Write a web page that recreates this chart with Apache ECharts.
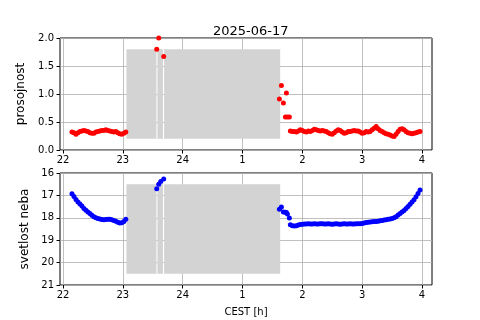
<!DOCTYPE html>
<html>
<head>
<meta charset="utf-8">
<script src="https://cdn.jsdelivr.net/npm/echarts@6/dist/echarts.min.js"></script>
<style>
html, body { margin: 0; padding: 0; background: #fff; }
#chart { width: 480px; height: 320px; }
</style>
</head>
<body>
<div id="chart"></div>
<script>
// sample times, minutes after 22:00 CEST
var minutes = [
    9, 11, 13, 15, 17, 19, 21, 23, 25, 27, 29, 31, 33, 35, 37, 39, 41, 43, 45, 47, 49, 51, 53, 55, 57, 59, 61, 63,
    94, 96, 98, 101,
    217, 219, 221, 223, 224, 225, 227,
    228, 230, 232, 234, 236, 238, 240, 242, 244, 246, 248, 250, 252, 254, 256, 258, 260, 262, 264, 266, 268, 270,
    272, 274, 276, 278, 280, 282, 284, 286, 288, 290, 292, 294, 296, 298, 300, 302, 304, 306, 308, 310, 312, 314,
    316, 318, 320, 322, 324, 326, 328, 330, 332, 334, 336, 338, 340, 342, 344, 346, 348, 350, 352, 354, 356, 358
];
var prosojnost = [
    0.32, 0.31, 0.28, 0.31, 0.33, 0.34, 0.35, 0.34, 0.33, 0.31, 0.30, 0.30, 0.32, 0.33, 0.34, 0.35, 0.35, 0.36,
    0.35, 0.34, 0.33, 0.32, 0.33, 0.31, 0.29, 0.28, 0.30, 0.32,
    1.80, 2.00, null, 1.67,
    0.91, 1.15, 0.84, 0.59, 1.02, 0.59, 0.59,
    0.34, 0.33, 0.33, 0.32, 0.34, 0.36, 0.35, 0.33, 0.32, 0.34, 0.33, 0.35, 0.37, 0.36, 0.35, 0.34, 0.35, 0.34,
    0.33, 0.31, 0.29, 0.28, 0.31, 0.34, 0.36, 0.35, 0.32, 0.30, 0.31, 0.33, 0.33, 0.34, 0.35, 0.34, 0.34, 0.32,
    0.30, 0.31, 0.33, 0.32, 0.33, 0.36, 0.39, 0.42, 0.38, 0.35, 0.33, 0.31, 0.29, 0.28, 0.27, 0.25, 0.24, 0.28,
    0.33, 0.37, 0.38, 0.36, 0.33, 0.31, 0.30, 0.29, 0.30, 0.31, 0.32, 0.33
];
var svetlost = [
    16.93, 17.05, 17.18, 17.29, 17.38, 17.47, 17.58, 17.66, 17.74, 17.81, 17.89, 17.95, 18.00, 18.03, 18.05, 18.08,
    18.09, 18.08, 18.06, 18.06, 18.09, 18.12, 18.15, 18.20, 18.23, 18.22, 18.16, 18.07,
    16.70, 16.50, 16.38, 16.27,
    17.62, 17.52, 17.74, 17.75, 17.76, 17.83, 18.01,
    18.31, 18.35, 18.37, 18.35, 18.32, 18.30,
    18.29, 18.28, 18.28, 18.27, 18.28, 18.28, 18.27, 18.28, 18.28, 18.27, 18.27, 18.28, 18.28, 18.27, 18.28,
    18.29, 18.28, 18.27, 18.28, 18.29, 18.28, 18.27, 18.28, 18.28, 18.27, 18.28, 18.28, 18.27, 18.27,
    18.27, 18.25, 18.23, 18.21, 18.20, 18.19, 18.18, 18.17, 18.16, 18.15, 18.13, 18.12, 18.10, 18.09, 18.07, 18.05,
    18.03, 18.00, 17.95, 17.88, 17.81, 17.74, 17.67, 17.59, 17.50, 17.40, 17.30, 17.19, 17.06, 16.91, 16.76
];
var hourTicks = [22, 23, 24, 25, 26, 27, 28];
// shaded intervals (minutes after 22:00)
var shadeStart = [63.6, 94.7, 101.4];
var shadeEnd = [93.7, 100.2, 217.8];

var font = 'DejaVu Sans';

function toHour(m) { return 22 + m / 60; }

function points(vals) {
    var out = [];
    for (var i = 0; i < minutes.length; i++) {
        if (vals[i] != null) out.push([toHour(minutes[i]), vals[i]]);
    }
    return out;
}

function shade(y0, y1) {
    var areas = [];
    for (var i = 0; i < shadeStart.length; i++) {
        areas.push([{ xAxis: toHour(shadeStart[i]), yAxis: y0 }, { xAxis: toHour(shadeEnd[i]), yAxis: y1 }]);
    }
    return areas;
}

function xAxisFor(idx, withName) {
    return {
        type: 'value',
        gridIndex: idx,
        min: 21.95,
        max: 28.167,
        name: withName ? 'CEST [h]' : '',
        nameLocation: 'middle',
        nameGap: 22,
        nameTextStyle: { color: '#000', fontSize: 10, fontFamily: font },
        axisLine: { show: false },
        axisTick: { show: true, length: 3.5, lineStyle: { color: '#000' }, customValues: hourTicks },
        axisLabel: {
            customValues: hourTicks,
            color: '#000', fontSize: 10, fontFamily: font, margin: 5,
            formatter: function (v) { return v > 24 ? String(v - 24) : String(v); }
        },
        splitLine: { show: true, lineStyle: { color: '#b0b0b0', width: 0.8 } }
    };
}

var myChart = echarts.init(document.getElementById('chart'));

var option = {
    animation: false,
    backgroundColor: '#fff',
    title: {
        text: '2025-06-17',
        left: 208,
        top: 20,
        textStyle: { color: '#000', fontSize: 13, fontWeight: 'normal', fontFamily: font }
    },
    grid: [
        { left: 60, right: 48, top: 38, height: 112, show: true, borderColor: '#000', borderWidth: 1 },
        { left: 60, right: 48, top: 173, height: 112, show: true, borderColor: '#000', borderWidth: 1 }
    ],
    xAxis: [xAxisFor(0, false), xAxisFor(1, true)],
    yAxis: [
        {
            type: 'value', gridIndex: 0, min: 0, max: 2, interval: 0.5,
            name: 'prosojnost', nameLocation: 'middle', nameGap: 29,
            nameTextStyle: { color: '#000', fontSize: 12, fontFamily: font },
            axisLine: { show: false },
            axisTick: { show: true, length: 3.5, lineStyle: { color: '#000' } },
            axisLabel: { color: '#000', fontSize: 10, fontFamily: font, margin: 6,
                formatter: function (v) { return v.toFixed(1); } },
            splitLine: { show: true, lineStyle: { color: '#b0b0b0', width: 0.8 } }
        },
        {
            type: 'value', gridIndex: 1, min: 16, max: 21, interval: 1, inverse: true,
            name: 'svetlost neba', nameLocation: 'middle', nameGap: 24,
            nameTextStyle: { color: '#000', fontSize: 12, fontFamily: font },
            axisLine: { show: false },
            axisTick: { show: true, length: 3.5, lineStyle: { color: '#000' } },
            axisLabel: { color: '#000', fontSize: 10, fontFamily: font, margin: 6 },
            splitLine: { show: true, lineStyle: { color: '#b0b0b0', width: 0.8 } }
        }
    ],
    series: [
        {
            name: 'prosojnost',
            type: 'scatter',
            xAxisIndex: 0, yAxisIndex: 0,
            symbolSize: 5,
            itemStyle: { color: '#ff0000', opacity: 1 },
            data: points(prosojnost),
            markArea: {
                silent: true,
                itemStyle: { color: '#d3d3d3', opacity: 1 },
                data: shade(0.2, 1.8)
            }
        },
        {
            name: 'svetlost neba',
            type: 'scatter',
            xAxisIndex: 1, yAxisIndex: 1,
            symbolSize: 5,
            itemStyle: { color: '#0000ff', opacity: 1 },
            data: points(svetlost),
            markArea: {
                silent: true,
                itemStyle: { color: '#d3d3d3', opacity: 1 },
                data: shade(16.5, 20.5)
            }
        }
    ]
};
myChart.setOption(option);
</script>
</body>
</html>
